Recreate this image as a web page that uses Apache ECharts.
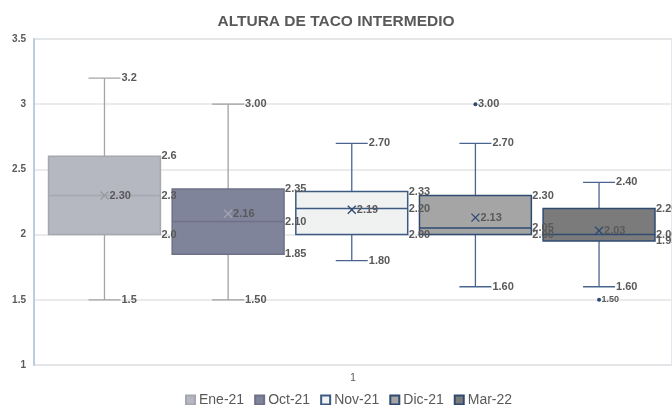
<!DOCTYPE html>
<html>
<head>
<meta charset="utf-8">
<script src="https://cdn.jsdelivr.net/npm/echarts@6/dist/echarts.min.js"></script>
<style>
html,body{margin:0;padding:0;background:#fff;}
#chart{width:672px;height:405px;}
</style>
</head>
<body>
<div id="chart"></div>
<script>
// ---- data ----
const categories = ['Ene-21', 'Oct-21', 'Nov-21', 'Dic-21', 'Mar-22'];
const mins     = [1.5, 1.5, 1.8, 1.6, 1.6];
const q1s      = [2.0, 1.85, 2.0, 2.0, 1.95];
const medians  = [2.3, 2.1, 2.2, 2.05, 2.0];
const q3s      = [2.6, 2.35, 2.33, 2.3, 2.2];
const maxs     = [3.2, 3.0, 2.7, 2.7, 2.4];
const means    = [2.30, 2.16, 2.19, 2.13, 2.03];
const outliers = [[], [], [], [3.0], [1.5]];
const labelDecimals = [1, 2, 2, 2, 2];
const xAxisLabels = ['1'];
const yTicks = [1, 1.5, 2, 2.5, 3, 3.5];

// ---- styles ----
const fills    = ['#b5b7c1', '#80849a', '#f0f2f2', '#a5a5a5', '#7b7b7b'];
const borders  = ['#a6a7b0', '#6e7186', '#3d5a82', '#2f4b72', '#2f4b72'];
const whiskers = ['#a4a4a8', '#a0a0a4', '#4a6690', '#4a6690', '#4a6690'];
const meanCols = ['#9a9aa2', '#a3a5b0', '#2f4b72', '#2f4b72', '#2f4b72'];
const textCol = '#595959';
const lblFont = 'bold 11px "Liberation Sans", Arial, sans-serif';

function renderBox(i) {
  return function (params, api) {
    const xc = api.coord([i, 2])[0];
    const bw = api.size([1, 0])[0] * 0.905;
    const half = bw / 2;
    const y = v => api.coord([i, v])[1];
    const d = labelDecimals[i];
    const wStyle = { stroke: whiskers[i], lineWidth: 1.3 };
    const children = [];
    const line = (x1, y1, x2, y2, style) => children.push({ type: 'line', shape: { x1, y1, x2, y2 }, style });
    const text = (x, yy, str, font, col) => children.push({ type: 'text', x, y: yy, z2: 100, style: { text: str, font: font || lblFont, fill: col || textCol, verticalAlign: 'middle', align: 'left' } });
    // whiskers
    line(xc, y(q3s[i]), xc, y(maxs[i]), wStyle);
    line(xc, y(q1s[i]), xc, y(mins[i]), wStyle);
    line(xc - 16, y(maxs[i]), xc + 16, y(maxs[i]), wStyle);
    line(xc - 16, y(mins[i]), xc + 16, y(mins[i]), wStyle);
    // box
    children.push({ type: 'rect', shape: { x: xc - half, y: y(q3s[i]), width: bw, height: y(q1s[i]) - y(q3s[i]) },
      style: { fill: fills[i], stroke: borders[i], lineWidth: 1.5 } });
    // median
    line(xc - half, y(medians[i]), xc + half, y(medians[i]), { stroke: borders[i], lineWidth: 1.5 });
    // mean marker
    const ym = y(means[i]);
    line(xc - 4, ym - 4, xc + 4, ym + 4, { stroke: meanCols[i], lineWidth: 1.3 });
    line(xc - 4, ym + 4, xc + 4, ym - 4, { stroke: meanCols[i], lineWidth: 1.3 });
    text(xc + 5, ym, means[i].toFixed(2));
    // box labels
    const xr = xc + half + 1;
    text(xr, y(q3s[i]), q3s[i].toFixed(d));
    text(xr, y(medians[i]), medians[i].toFixed(d));
    text(xr, y(q1s[i]), q1s[i].toFixed(d));
    // whisker labels
    text(xc + 17, y(maxs[i]), maxs[i].toFixed(d));
    text(xc + 17, y(mins[i]), mins[i].toFixed(d));
    // outliers
    outliers[i].forEach(o => {
      const yo = y(o);
      children.push({ type: 'circle', shape: { cx: xc, cy: yo, r: 2 }, style: { fill: borders[i] } });
      text(xc + 2.5, yo, o.toFixed(2), o < 2 ? 'bold 9px "Liberation Sans", Arial, sans-serif' : lblFont);
    });
    return { type: 'group', children };
  };
}

const series = categories.map((name, i) => ({
  name,
  type: 'custom',
  xAxisIndex: 0,
  yAxisIndex: 0,
  renderItem: renderBox(i),
  itemStyle: { color: fills[i], borderColor: borders[i], borderWidth: 1 },
  data: [[i, mins[i], q1s[i], medians[i], q3s[i], maxs[i]]],
  encode: { x: 0, y: [1, 5] },
  clip: false,
  silent: true
}));

const chart = echarts.init(document.getElementById('chart'), null, { renderer: 'canvas' });
chart.setOption({
  animation: false,
  backgroundColor: '#ffffff',
  title: {
    text: 'ALTURA DE TACO INTERMEDIO',
    left: 'center',
    top: 9,
    textStyle: { fontFamily: '"Liberation Sans", Arial, sans-serif', fontSize: 15.5, fontWeight: 'bold', color: '#595959' }
  },
  legend: {
    data: categories,
    top: 388,
    left: 180,
    icon: 'rect',
    itemWidth: 9,
    itemHeight: 9,
    itemGap: 10,
    textStyle: { fontFamily: '"Liberation Sans", Arial, sans-serif', fontSize: 14, color: '#595959', padding: [0, 0, 0, -1] }
  },
  grid: {
    left: 34, right: -4, top: 39, bottom: 40,
    show: true, borderColor: '#c2d0e0', borderWidth: 1, backgroundColor: 'transparent'
  },
  xAxis: [
    { type: 'value', min: -0.57, max: 4.59, show: false },
    {
      type: 'category', data: xAxisLabels, position: 'bottom', boundaryGap: true,
      axisLine: { show: false }, axisTick: { show: false },
      axisLabel: { fontFamily: '"Liberation Sans", Arial, sans-serif', fontSize: 10, color: '#595959', margin: 8 }
    }
  ],
  yAxis: {
    type: 'value',
    min: yTicks[0], max: yTicks[yTicks.length - 1], interval: 0.5,
    axisLine: { show: true, onZero: false, lineStyle: { color: '#bccde0', width: 2 } },
    axisTick: { show: false },
    axisLabel: { fontFamily: '"Liberation Sans", Arial, sans-serif', fontSize: 10, fontWeight: 'bold', color: '#595959', margin: 8 },
    splitLine: { show: true, lineStyle: { color: '#e4e4e4', width: 1.5 } }
  },
  series
});
</script>
</body>
</html>
